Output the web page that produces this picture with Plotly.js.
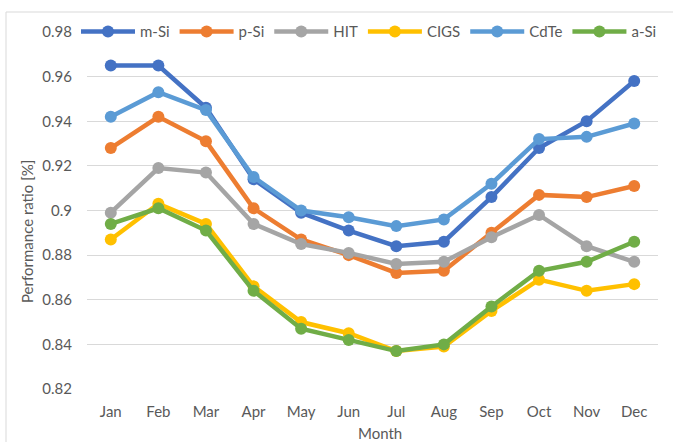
<!DOCTYPE html>
<html>
<head>
<meta charset="utf-8">
<script src="https://cdn.plot.ly/plotly-3.0.1.min.js"></script>
<style>
html,body{margin:0;padding:0;background:#fff;}
#chart{width:673px;height:442px;}
</style>
</head>
<body>
<div id="chart"></div>
<script>
var months = ["Jan","Feb","Mar","Apr","May","Jun","Jul","Aug","Sep","Oct","Nov","Dec"];
var seriesNames = ["m-Si","p-Si","HIT","CIGS","CdTe","a-Si"];
var mSi  = [0.965,0.965,0.946,0.914,0.899,0.891,0.884,0.886,0.906,0.928,0.940,0.958];
var pSi  = [0.928,0.942,0.931,0.901,0.887,0.880,0.872,0.873,0.890,0.907,0.906,0.911];
var HIT  = [0.899,0.919,0.917,0.894,0.885,0.881,0.876,0.877,0.888,0.898,0.884,0.877];
var CIGS = [0.887,0.903,0.894,0.866,0.850,0.845,0.837,0.839,0.855,0.869,0.864,0.867];
var CdTe = [0.942,0.953,0.945,0.915,0.900,0.897,0.893,0.896,0.912,0.932,0.933,0.939];
var aSi  = [0.894,0.901,0.891,0.864,0.847,0.842,0.837,0.840,0.857,0.873,0.877,0.886];
var yTicks = [0.82,0.84,0.86,0.88,0.9,0.92,0.94,0.96,0.98];
var yTickText = ["0.82","0.84","0.86","0.88","0.9","0.92","0.94","0.96","0.98"];
var colors = ["#4472C4","#ED7D31","#A5A5A5","#FFC000","#5B9BD5","#70AD47"];
var allSeries = [mSi,pSi,HIT,CIGS,CdTe,aSi];

var traces = allSeries.map(function(vals,i){
  return {
    x: months, y: vals, name: seriesNames[i], type: "scatter", mode: "lines+markers",
    line: {color: colors[i], width: 4.5},
    marker: {color: colors[i], size: 12}
  };
});

var font = "Lato, 'Open Sans', sans-serif";
var layout = {
  width: 673, height: 442,
  margin: {l: 87, r: 15, t: 32, b: 53},
  paper_bgcolor: "#fff", plot_bgcolor: "#fff",
  font: {family: font, size: 15, color: "#595959"},
  showlegend: true,
  legend: {orientation: "h", x: (76-87)/571, xanchor: "left", y: 1.0005, yanchor: "middle",
           bgcolor: "rgba(255,255,255,1)", font: {family: font, size: 15, color: "#595959"},
           itemwidth: 54, tracegroupgap: 0, itemclick: false},
  xaxis: {type: "category", range: [-0.5, 11.5], showgrid: false, zeroline: false,
          showline: false, ticks: "", ticklabelstandoff: 12,
          tickfont: {family: font, size: 15, color: "#595959"}},
  yaxis: {range: [0.82, 0.98], tickvals: yTicks, ticktext: yTickText, showgrid: true,
          gridcolor: "#D9D9D9", gridwidth: 1, zeroline: false, showline: false, ticks: "",
          ticklabelstandoff: 14, tickfont: {family: font, size: 15, color: "#595959"}},
  annotations: [
    {text: "Month", xref: "paper", yref: "paper", x: (380-87)/571, y: (389-433)/357,
     xanchor: "center", yanchor: "middle", showarrow: false, font: {family: font, size: 15, color: "#595959"}},
    {text: "Performance ratio [%]", xref: "paper", yref: "paper", x: (27-87)/571, y: (389-232)/357,
     xanchor: "center", yanchor: "middle", textangle: -90, showarrow: false, font: {family: font, size: 15, color: "#595959"}}
  ],
  shapes: [
    {type: "line", xref: "paper", yref: "paper", x0: (6-87)/571, x1: (6-87)/571, y0: (389-460)/357, y1: (389-12)/357,
     line: {color: "#D9D9D9", width: 1}},
    {type: "line", xref: "paper", yref: "paper", x0: (6-87)/571, x1: (700-87)/571, y0: (389-12)/357, y1: (389-12)/357,
     line: {color: "#D9D9D9", width: 1}}
  ]
};

Plotly.newPlot("chart", traces, layout, {displayModeBar: false, staticPlot: true});
</script>
</body>
</html>
